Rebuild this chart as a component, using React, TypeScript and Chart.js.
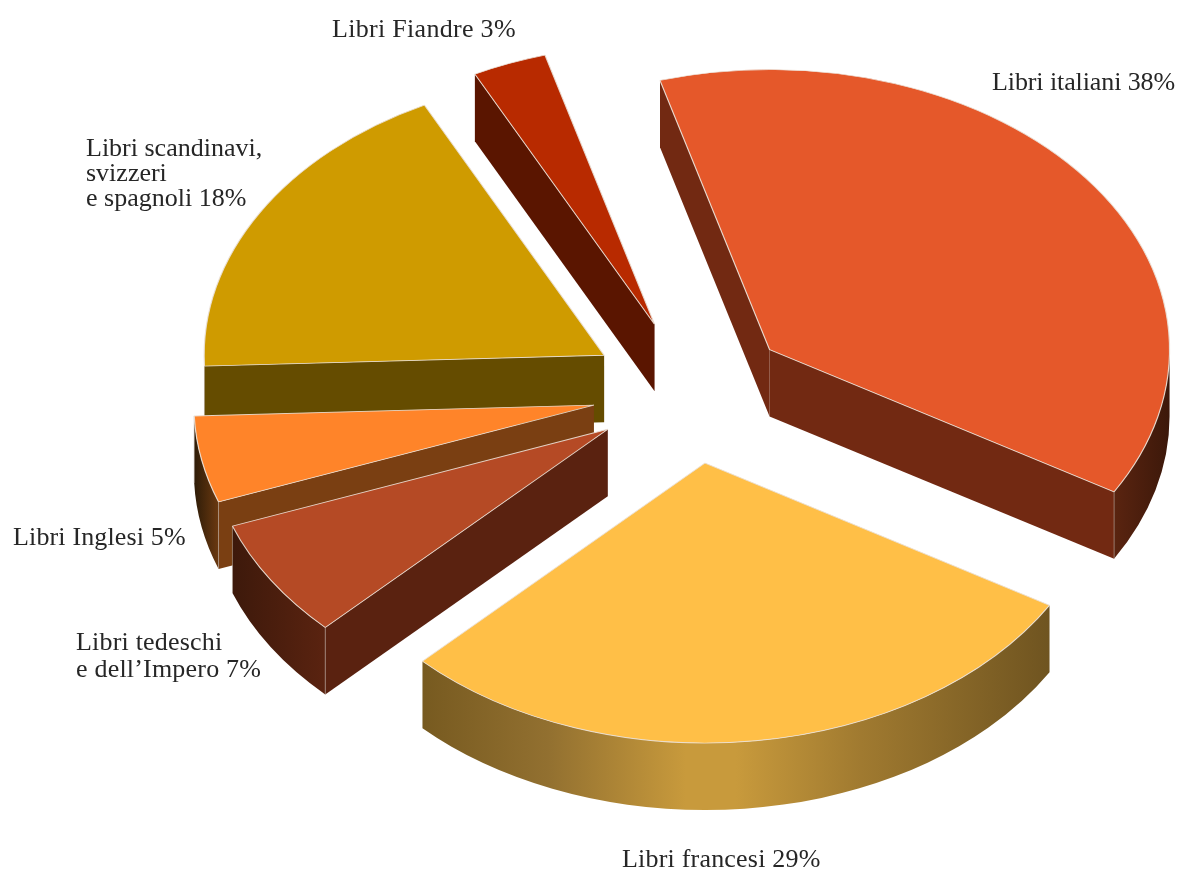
import React, { useEffect, useRef } from "react";
import { Chart, registerables } from "chart.js";

Chart.register(...registerables);

const categories = ["Libri italiani", "Libri francesi", "Libri tedeschi e dell’Impero", "Libri Inglesi", "Libri scandinavi, svizzeri e spagnoli", "Libri Fiandre"];
const shares = [37.9, 29, 6.9, 5, 18.2, 3];
const topColors = ["#e5582a", "#ffbf47", "#b54a25", "#ff8429", "#cf9b00", "#b82a00"];
const wallColors = ["#722912", "#7a5c20", "#5a2210", "#7a3f12", "#654c00", "#5a1500"];
const explodeOffsets = [98, 103, 100, 100, 102, 103];
const paintOrder = [0, 5, 4, 3, 2, 1];
const rimStops: [number, string][][] = [
  [[0, "#5a2410"], [1, "#3c180a"]],
  [[0, "#775a20"], [0.2, "#927030"], [0.42, "#c89a3c"], [0.5, "#c89a3c"], [0.7, "#a07a30"], [1, "#6f5420"]],
  [[0, "#3d190b"], [1, "#5a2310"]],
  [[0, "#2e1c08"], [1, "#6b3910"]],
  [[0, "#654c00"], [1, "#654c00"]],
  [[0, "#5a1500"], [1, "#5a1500"]],
];
const labelLines = [
  ["Libri italiani 38%"],
  ["Libri francesi 29%"],
  ["Libri tedeschi", "e dell’Impero 7%"],
  ["Libri Inglesi 5%"],
  ["Libri scandinavi,", "svizzeri", "e spagnoli 18%"],
  ["Libri Fiandre 3%"],
];
const labelAnchors: [number, number, number][] = [
  [992, 90, 26],
  [622, 867, 26],
  [76, 650, 27],
  [13, 545, 26],
  [86, 156, 25],
  [332, 37, 26],
];
const labelTracking = [-0.1, 0.2, 0.2, 0.15, 0, 0.3];
const TILT = 0.7;
const DEPTH = 67;
const FONT = '26px "Liberation Serif"';
const TEXT_COLOR = "#262626";

const pie3d = {
  id: "pie3d",
  beforeDatasetsDraw(chart: any) {
    const ctx: CanvasRenderingContext2D = chart.ctx;
    const arcs = chart.getDatasetMeta(0).data;
    for (const i of paintOrder) {
      const arc = arcs[i];
      const { x, y, startAngle, endAngle, outerRadius: r } = arc.getProps(["x", "y", "startAngle", "endAngle", "outerRadius"]);
      const mid = (startAngle + endAngle) / 2;
      const cx = x + Math.cos(mid) * explodeOffsets[i];
      const cy = y + Math.sin(mid) * explodeOffsets[i] * TILT;
      const px = (a: number) => cx + Math.cos(a) * r;
      const py = (a: number) => cy + Math.sin(a) * r * TILT;

      const quad = (a: number) => {
        ctx.beginPath();
        ctx.moveTo(cx, cy);
        ctx.lineTo(px(a), py(a));
        ctx.lineTo(px(a), py(a) + DEPTH);
        ctx.lineTo(cx, cy + DEPTH);
        ctx.closePath();
        ctx.fillStyle = wallColors[i];
        ctx.fill();
      };
      if (Math.cos(startAngle) < 0) quad(startAngle);
      if (Math.cos(endAngle) > 0) quad(endAngle);

      // outer rim: the part of the slice's arc that faces the viewer
      const a0 = startAngle % (2 * Math.PI);
      const from = Math.max(startAngle, a0 < 0 ? startAngle - a0 : startAngle);
      const to = Math.min(endAngle, Math.PI);
      if (to > from) {
        const x0 = Math.min(px(from), px(to));
        const x1 = Math.max(px(from), px(to));
        const g = ctx.createLinearGradient(x0, 0, x1, 0);
        for (const [s, c] of rimStops[i]) g.addColorStop(s, c);
        ctx.beginPath();
        ctx.ellipse(cx, cy, r, r * TILT, 0, from, to);
        ctx.ellipse(cx, cy + DEPTH, r, r * TILT, 0, to, from, true);
        ctx.closePath();
        ctx.fillStyle = g;
        ctx.fill();
      }
      // light seam on the corners between wall and rim
      ctx.strokeStyle = "rgba(190,175,165,0.55)";
      ctx.lineWidth = 1;
      for (const a of [startAngle, endAngle]) {
        if (Math.sin(a) > 0 && i !== 1) {
          ctx.beginPath();
          ctx.moveTo(px(a), py(a));
          ctx.lineTo(px(a), py(a) + DEPTH);
          ctx.stroke();
        }
      }

      // top face: the library's own arc, flattened and moved out
      ctx.save();
      ctx.translate(cx, cy);
      ctx.scale(1, TILT);
      ctx.translate(-x, -y);
      arc.draw(ctx);
      ctx.restore();
    }
    return false;
  },
  afterDraw(chart: any) {
    const ctx: any = chart.ctx;
    ctx.save();
    ctx.font = FONT;
    ctx.fillStyle = TEXT_COLOR;
    ctx.textAlign = "left";
    ctx.textBaseline = "alphabetic";
    labelLines.forEach((lines, i) => {
      const [lx, ly, lh] = labelAnchors[i];
      ctx.letterSpacing = `${labelTracking[i]}px`;
      lines.forEach((t, j) => ctx.fillText(t, lx, ly + j * lh));
    });
    ctx.restore();
  },
};

export default function App() {
  const ref = useRef<HTMLCanvasElement>(null);
  useEffect(() => {
    const chart = new Chart(ref.current!, {
      type: "pie",
      data: {
        labels: categories,
        datasets: [
          {
            data: shares,
            backgroundColor: topColors,
            borderColor: "rgba(235,225,215,0.9)",
            borderWidth: 1.2,
            radius: 400,
          } as any,
        ],
      },
      options: {
        responsive: false,
        animation: false,
        rotation: -15.9,
        layout: { padding: { left: 203, right: 0, top: 0, bottom: 89 } },
        plugins: { legend: { display: false }, tooltip: { enabled: false } },
      },
      plugins: [pie3d],
    } as any);
    return () => chart.destroy();
  }, []);
  return (
    <div style={{ position: "absolute", left: 0, top: 0, width: 1181, height: 872, background: "#fff" }}>
      <canvas ref={ref} width={1181} height={872} style={{ display: "block" }} />
    </div>
  );
}
